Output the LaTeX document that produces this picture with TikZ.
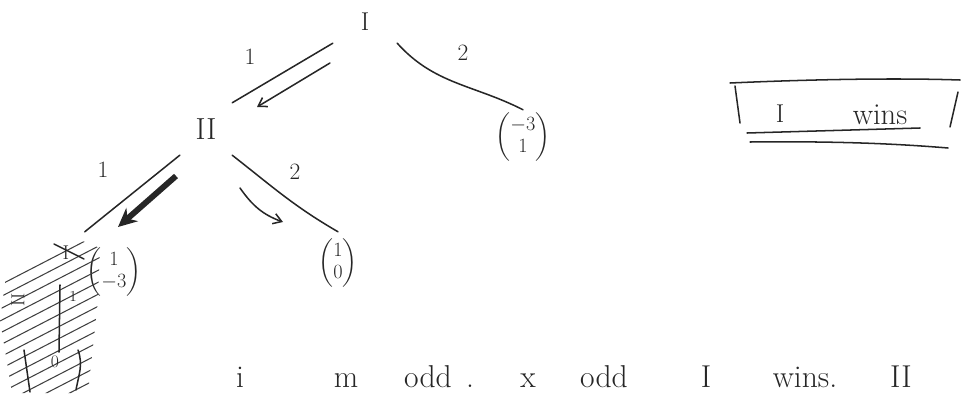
\documentclass[tikz,border=0pt]{standalone}
\usepackage{amsmath}
\usetikzlibrary{arrows.meta}

\begin{document}
\begin{tikzpicture}[x=0.03cm, y=-0.03cm,
    ink/.style={line width=1.3pt, black!85, line cap=round},
    player/.style={rectangle, inner sep=0pt, text=black!85},
    payoff/.style={rectangle, inner sep=0pt, text=black!85, font=\fontsize{18}{19}\selectfont},
    choice/.style={text=black!85, font=\fontsize{20}{22}\selectfont},
    hint/.style={ink, -{Straight Barb[length=7pt,width=9pt]}},
    note/.style={anchor=base, text=black!85, font=\fontsize{27}{30}\selectfont},
    hatch/.style={black!75, line width=0.9pt}
]
\useasboundingbox (0,0) rectangle (961,393);

% players
\node[player, minimum width=1.92cm, minimum height=1.26cm, font=\fontsize{22}{24}\selectfont] (root) at (365,22) {I};
\node[player, minimum width=1.56cm, minimum height=1.56cm, font=\fontsize{26}{28}\selectfont] (p2) at (206,129) {II};

% payoffs
\node[payoff, minimum height=1.62cm] (lfa) at (523,137) {$\begin{pmatrix}-3\\1\end{pmatrix}$};
\node[payoff, minimum height=1.86cm] (lfb) at (338,263) {$\begin{pmatrix}1\\0\end{pmatrix}$};
\node[payoff, minimum width=1.74cm, minimum height=2.4cm] (lfc) at (114,272) {$\begin{pmatrix}1\\-3\end{pmatrix}$};

% moves
\draw[ink] (root.south west) -- (p2.north east);
\draw[ink] (root.south east) to[out=-48, in=153] (lfa.north);
\draw[ink] (p2.south west) -- (lfc.north west);
\draw[ink] (p2.south east) to[out=-38, in=150] (lfb.north);

\node[choice] (c1) at (250,57) {1};
\node[choice] (c2) at (463,53) {2};
\node[choice] (c3) at (103,170) {1};
\node[choice] (c4) at (295,172) {2};

% chosen moves
\coordinate (h1a) at (330,63);
\coordinate (h1b) at (257,107);
\coordinate (h2a) at (176,176);
\coordinate (h2b) at (118,227);
\coordinate (h3a) at (240,188);
\coordinate (h3b) at (283,222);
\draw[hint] (h1a) -- (h1b);
\draw[ink, line width=5pt, line cap=butt, -{Stealth[length=16pt,width=15pt]}] (h2a) -- (h2b);
\draw[hint] (h3a) to[out=-55, in=160] (h3b);

% crossed out subtree
\begin{scope}
\clip (8,262) -- (70,236) -- (100,248) -- (98,300) -- (88,393) -- (12,393) -- (0,320) -- cycle;
\foreach \k in {0,...,14}
    \draw[hatch] (0,{285+12*\k}) -- (120,{285+12*\k-62});
\end{scope}
\node[choice, font=\fontsize{17}{18}\selectfont] (s1) at (66,253) {I};
\node[choice, font=\fontsize{16}{17}\selectfont, rotate=90] (s2) at (18,300) {II};
\node[choice, font=\fontsize{13}{14}\selectfont] (s3) at (73,296) {1};
\node[choice, font=\fontsize{15}{16}\selectfont] (s4) at (55,362) {0};
\draw[ink] (54,244) -- (84,259);
\draw[ink] (60,285) -- (59,352);
\draw[ink] (78,350) to[out=-70, in=80] (76,390);
\draw[ink] (24,350) -- (30,392);

% result
\node[choice, font=\fontsize{22}{24}\selectfont] (wI) at (780,114) {I};
\node[choice, font=\fontsize{26}{28}\selectfont] (wins) at (880,115) {wins};
\draw[ink] (730,83) .. controls (820,79) and (900,78) .. (960,80);
\draw[ink] (735,86) -- (740,123);
\draw[ink] (958,92) -- (950,127);
\draw[ink] (747,133) -- (920,128);
\draw[ink] (750,142) .. controls (840,141) and (900,144) .. (948,148);

% bottom line
\node[note] (t1) at (240,387) {i};
\node[note] (t2) at (346,387) {m};
\node[note] (t3) at (428,387) {odd};
\node[note] (t4) at (470,387) {.};
\node[note] (t5) at (528,387) {x};
\node[note] (t6) at (604,387) {odd};
\node[note] (t7) at (706,387) {I};
\node[note] (t8) at (805,387) {wins.};
\node[note] (t9) at (901,387) {II};

\end{tikzpicture}
\end{document}
